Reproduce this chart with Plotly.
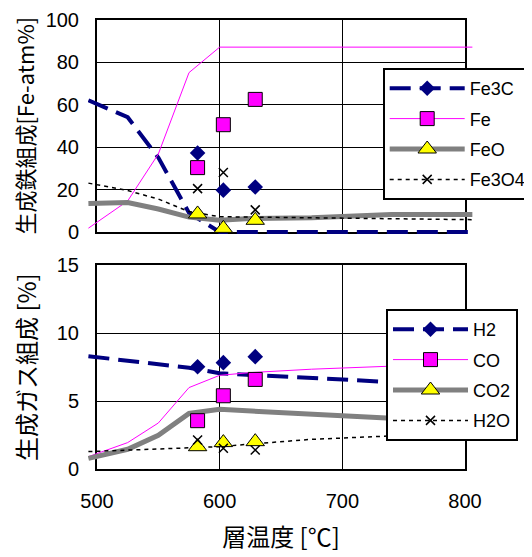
import plotly.graph_objects as go

# ---------------- data ----------------
calc_temp = [493, 525, 550, 575, 600, 625, 675, 740, 806]
fe3c_calc = [62, 54, 35, 9, 0, 0, 0, 0, 0]
fe_calc = [1.8, 14.6, 36.7, 75, 87, 87, 87, 87, 87]
feo_calc = [13.4, 13.9, 10.8, 7.0, 5.5, 6.3, 6.7, 8.2, 8.2]
fe3o4_calc = [23, 19.5, 15.5, 9.6, 7.2, 7.0, 6.6, 6.2, 5.8]

h2_calc = [8.3, 7.98, 7.72, 7.46, 7.05, 6.93, 6.7, 6.4, 6.1]
co_calc = [0.93, 1.96, 3.4, 6.0, 6.9, 7.1, 7.35, 7.6, 7.8]
co2_calc = [0.8, 1.47, 2.5, 4.1, 4.4, 4.3, 4.05, 3.75, 3.6]
h2o_calc = [1.3, 1.4, 1.5, 1.6, 1.66, 1.85, 2.2, 2.45, 2.55]

exp_temp = [582, 603, 629]
fe3c_exp = [37.2, 19.7, 21.2]
fe_exp = [30.3, 50.5, 62.4]
feo_exp = [8.5, 1.7, 5.5]
fe3o4_exp = [20.4, 28.0, 10.4]

h2_exp = [7.53, 7.83, 8.27]
co_exp = [3.57, 5.4, 6.6]
co2_exp = [1.66, 1.96, 2.03]
h2o_exp = [2.15, 1.54, 1.42]

top_names = ["Fe3C", "Fe", "FeO", "Fe3O4"]
bot_names = ["H2", "CO", "CO2", "H2O"]
x_ticks = [500, 600, 700, 800]
top_y_range = [0, 100]
bot_y_range = [0, 15]

# ---------------- layout geometry (screen px; page body offsets figure by 8px) ----------------
W, H = 532, 557
OFF = 8
ML, MR, MT, MB = 70, 50, 0, 70
PW, PH = W - ML - MR, H - MT - MB


def xd(px):
    return (px - OFF - ML) / PW


def yd(py):
    return (H - MB - (py - OFF)) / PH


X0, X1 = 97, 465            # main plot left/right
XE0, XE1 = 88, 476          # extended (data) area
TY0, TY1 = 19.5, 232        # top plot top/bottom
BY0, BY1 = 265, 469.3       # bottom plot top/bottom
EP = 5                      # extra px for data area

kx = (x_ticks[-1] - x_ticks[0]) / (X1 - X0)
x_ext = [x_ticks[0] + (XE0 - X0) * kx, x_ticks[-1] + (XE1 - X1) * kx]
kt = (top_y_range[1] - top_y_range[0]) / (TY1 - TY0)
top_ext = [top_y_range[0] - EP * kt, top_y_range[1] + EP * kt]
kb = (bot_y_range[1] - bot_y_range[0]) / (BY1 - BY0)
bot_ext = [bot_y_range[0] - EP * kb, bot_y_range[1] + EP * kb]

FONT = "Liberation Sans, Noto Sans CJK JP, sans-serif"
CJK = "Noto Sans CJK JP, sans-serif"

styles = [
    dict(line=dict(color="#000080", width=4, dash="21px,9px"),
         marker=dict(symbol="diamond", size=12, color="#000080", line=dict(width=0))),
    dict(line=dict(color="#FF00FF", width=1),
         marker=dict(symbol="square", size=14, color="#FF00FF", line=dict(color="black", width=1))),
    dict(line=dict(color="#808080", width=5),
         marker=dict(symbol="triangle-up", size=16, color="#FFFF00", line=dict(color="black", width=1))),
    dict(line=dict(color="black", width=1.5, dash="4px,4px"),
         marker=dict(symbol="x-thin", size=9, color="black", line=dict(color="black", width=1.5))),
]

fig = go.Figure()

# anchor traces so that the framed (grid) subplots exist
fig.add_trace(go.Scatter(x=[None], y=[None], showlegend=False, xaxis="x", yaxis="y"))
fig.add_trace(go.Scatter(x=[None], y=[None], showlegend=False, xaxis="x2", yaxis="y2"))

panels = [
    (top_names, [fe3c_calc, fe_calc, feo_calc, fe3o4_calc],
     [fe3c_exp, fe_exp, feo_exp, fe3o4_exp], "x3", "y3", "legend"),
    (bot_names, [h2_calc, co_calc, co2_calc, h2o_calc],
     [h2_exp, co_exp, co2_exp, h2o_exp], "x4", "y4", "legend2"),
]

for names, calcs, exps, xa, ya, lg in panels:
    for st, yc in zip(styles, calcs):
        fig.add_trace(go.Scatter(x=calc_temp, y=yc, mode="lines", line=st["line"],
                                 showlegend=False, xaxis=xa, yaxis=ya, hoverinfo="skip"))
    for st, ye in zip(styles, exps):
        fig.add_trace(go.Scatter(x=exp_temp, y=ye, mode="markers", marker=st["marker"],
                                 showlegend=False, cliponaxis=False, xaxis=xa, yaxis=ya))
    for i, (st, nm) in enumerate(zip(styles, names)):
        fig.add_trace(go.Scatter(x=[None], y=[None], mode="lines+markers", name=nm,
                                 line=st["line"], marker=st["marker"], legend=lg,
                                 legendgroup=lg + str(i), xaxis=xa, yaxis=ya))

axis_common = dict(showgrid=True, gridcolor="black", gridwidth=1.2, showline=True,
                   mirror=True, linecolor="black", linewidth=2, zeroline=False,
                   ticks="", ticklabeloverflow="allow",
                   tickfont=dict(family=FONT, size=20, color="black"))

legend_common = dict(xanchor="left", yanchor="top",
                     bgcolor="white", bordercolor="black", borderwidth=2,
                     font=dict(family=FONT, size=18, color="black"),
                     itemwidth=75, tracegroupgap=4, traceorder="grouped")

fig.update_layout(
    width=W, height=H,
    margin=dict(l=ML, r=MR, t=MT, b=MB, autoexpand=False),
    paper_bgcolor="white", plot_bgcolor="rgba(0,0,0,0)",
    font=dict(family=FONT, color="black"),
    xaxis=dict(domain=[xd(X0), xd(X1)], range=[x_ticks[0], x_ticks[-1]], tickvals=x_ticks,
               showticklabels=False, anchor="y", **axis_common),
    yaxis=dict(domain=[yd(TY1), yd(TY0)], range=top_y_range, dtick=20, anchor="x",
               ticklabelstandoff=12,
               title=dict(text="生成鉄組成[Fe-atm%]", font=dict(family=CJK, size=22), standoff=30),
               **axis_common),
    xaxis2=dict(domain=[xd(X0), xd(X1)], range=[x_ticks[0], x_ticks[-1]], tickvals=x_ticks,
                anchor="y2", ticklabelstandoff=13,
                title=dict(text="層温度 [℃]", font=dict(family=CJK, size=24), standoff=18),
                **axis_common),
    yaxis2=dict(domain=[yd(BY1), yd(BY0)], range=bot_y_range, dtick=5, anchor="x2",
                ticklabelstandoff=12,
                title=dict(text="生成ガス組成 [%]", font=dict(family=CJK, size=24), standoff=33),
                **axis_common),
    xaxis3=dict(domain=[xd(XE0), xd(XE1)], range=x_ext, anchor="y3", visible=False),
    yaxis3=dict(domain=[yd(TY1 + EP), yd(TY0 - EP)], range=top_ext, anchor="x3", visible=False),
    xaxis4=dict(domain=[xd(XE0), xd(XE1)], range=x_ext, anchor="y4", visible=False),
    yaxis4=dict(domain=[yd(BY1 + EP), yd(BY0 - EP)], range=bot_ext, anchor="x4", visible=False),
    legend=dict(x=xd(382.7), y=yd(68), **legend_common),
    legend2=dict(x=xd(386), y=yd(309), **legend_common),
    showlegend=True,
)

fig.write_html("out.html")
